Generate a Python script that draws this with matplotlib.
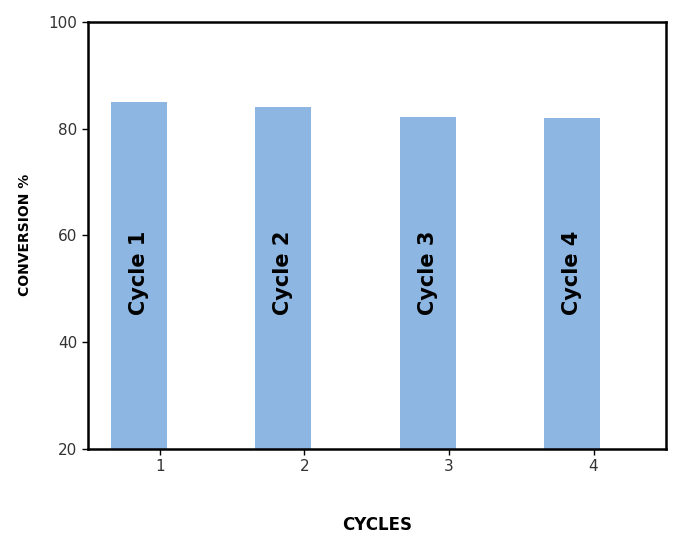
import matplotlib.pyplot as plt

cycles = [1, 2, 3, 4]
conversion = [85, 84, 82.2, 81.9]
bar_labels = ["Cycle 1", "Cycle 2", "Cycle 3", "Cycle 4"]

fig = plt.figure(figsize=(6.85, 5.44), dpi=100)
ax = fig.add_axes([0.128, 0.175, 0.844, 0.785])

xs = [c - 0.147 for c in cycles]
ax.bar(xs, [v - 20 for v in conversion], bottom=20, width=0.39, color="#8db6e2")
for x, lab in zip(xs, bar_labels):
    ax.text(x, 53, lab, rotation=90, ha="center", va="center",
            fontsize=15, fontweight="bold", color="black")

ax.set_xlim(0.5, 4.5)
ax.set_ylim(20, 100)
ax.set_xticks(cycles)
ax.set_yticks([20, 40, 60, 80, 100])
ax.tick_params(labelsize=11, width=1, length=4)
for lab in ax.get_xticklabels() + ax.get_yticklabels():
    lab.set_color("#333333")
for s in ax.spines.values():
    s.set_linewidth(1.8)
ax.set_xlabel("CYCLES", fontsize=12, fontweight="bold", labelpad=30)
ax.set_ylabel("CONVERSION %", fontsize=10, fontweight="bold", labelpad=12)

fig.savefig("out.png", dpi=100)
